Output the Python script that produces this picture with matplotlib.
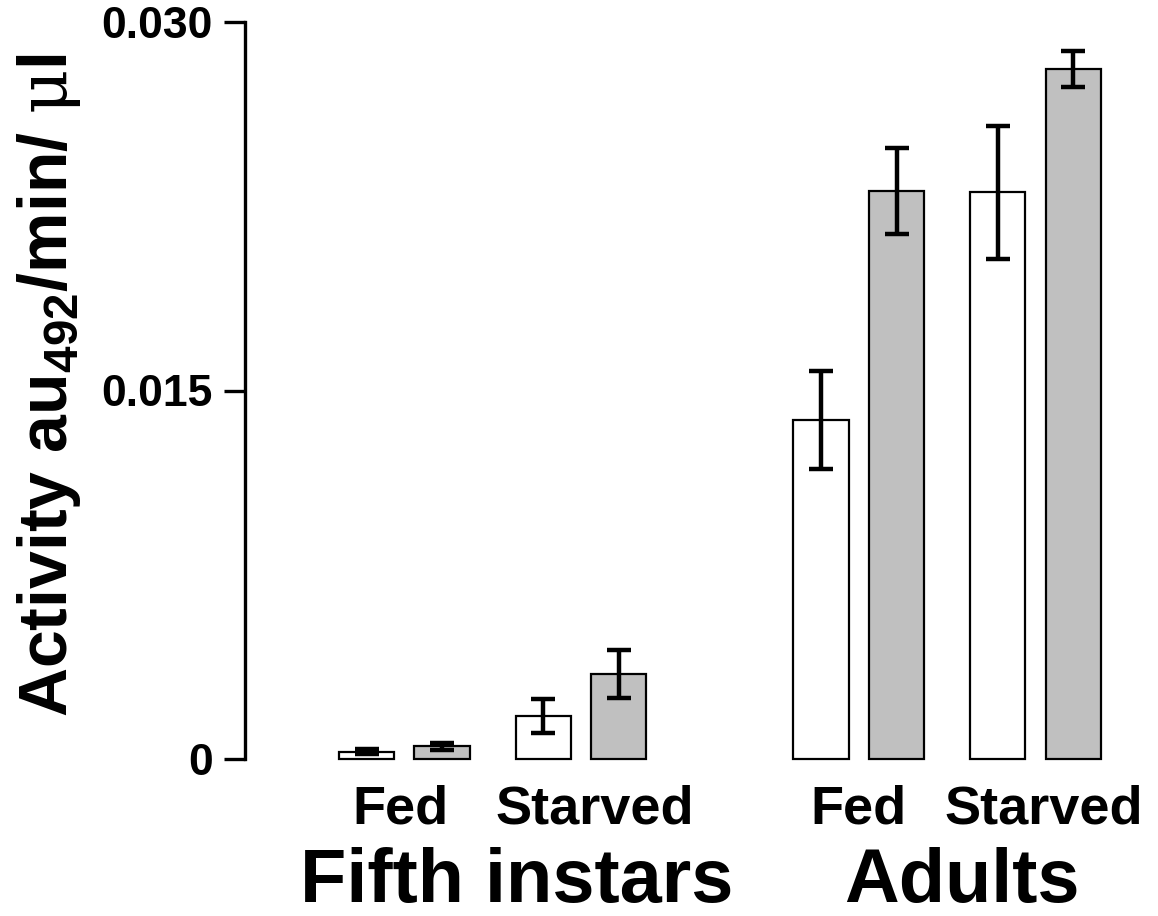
import matplotlib
matplotlib.use("Agg")
import matplotlib.pyplot as plt
import numpy as np

plt.rcParams['font.family'] = ['Liberation Sans', 'DejaVu Sans']
plt.rcParams['font.weight'] = 'bold'
plt.rcParams['mathtext.fontset'] = 'custom'
plt.rcParams['mathtext.rm'] = 'Liberation Sans:bold'
plt.rcParams['mathtext.bf'] = 'Liberation Sans:bold'
plt.rcParams['mathtext.sf'] = 'DejaVu Serif:weight=normal'

# Data
groups = ["Fifth instars", "Adults"]
conditions = ["Fed", "Starved"]
series_colors = ["white", "#C0C0C0"]
# values[group][condition][series]
values = [
    [[0.00030, 0.00052], [0.00175, 0.00347]],
    [[0.01380, 0.02312], [0.02307, 0.02809]],
]
errors = [
    [[0.00010, 0.00015], [0.00070, 0.00097]],
    [[0.00200, 0.00174], [0.00271, 0.00073]],
]
yticks = [0, 0.015, 0.030]
ytick_labels = ["0", "0.015", "0.030"]

W, H = 1158, 916
fig = plt.figure(figsize=(W / 100, H / 100), dpi=100)
ax = fig.add_axes([245 / W, (H - 759) / H, (W - 245) / W, (759 - 22) / H])

bw = 0.73
for g in range(2):
    for c in range(2):
        for s in range(2):
            x = g * 6.02 + c * 2.34 + s * 1.0
            v = values[g][c][s]
            e = errors[g][c][s]
            ax.bar(x, v, width=bw, color=series_colors[s], edgecolor='black',
                   linewidth=1.6, clip_on=False, zorder=2)
            ax.errorbar(x, v, yerr=e, fmt='none', ecolor='black', elinewidth=3.2,
                        capsize=8.6, capthick=3.2, clip_on=False, zorder=3)

ax.set_xlim((245 - 366.5) / 75.5, (1158 - 366.5) / 75.5)
ax.set_ylim(0, 0.030)
ax.set_yticks(yticks)
ax.set_yticklabels(ytick_labels, fontsize=32, fontweight='heavy')
ax.tick_params(axis='y', direction='out', length=15, width=2.4, pad=8)
ax.set_xticks([])
for sp in ['top', 'right', 'bottom']:
    ax.spines[sp].set_visible(False)
ax.spines['left'].set_linewidth(2.4)
ax.patch.set_alpha(0)

def ftext(px, py, s, size):
    fig.text(px / W, (H - py) / H, s, fontsize=size, fontweight='bold',
             ha='center', va='baseline')

# condition labels
cond_px = [[400, 594.5], [858, 1044]]
for g in range(2):
    for c in range(2):
        ftext(cond_px[g][c], 823, conditions[c], 39)
group_px = [517, 962]
for g in range(2):
    ftext(group_px[g], 902, groups[g], 54.5)

fig.text(49 / W, (H - 385.5) / H, "Activity au$_{492}$/min/ $\\mathsf{μ}$l", fontsize=49,
         fontweight='bold', rotation=90, ha='center', va='center')

fig.savefig("out.png", dpi=100)
